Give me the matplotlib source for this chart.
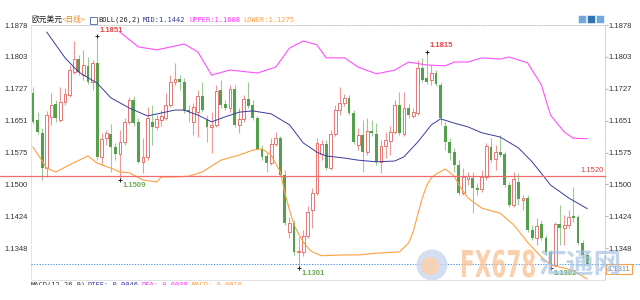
import matplotlib
matplotlib.use("Agg")
import matplotlib.pyplot as plt
from matplotlib.patches import Rectangle, Circle, PathPatch
from matplotlib.textpath import TextPath
from matplotlib.font_manager import FontProperties
from matplotlib.transforms import Affine2D, IdentityTransform
import numpy as np

plt.rcParams['font.family'] = ['Liberation Sans', 'Noto Sans CJK SC', 'DejaVu Sans']

# daily EUR/USD candles
opens = [1.1717,1.1652,1.1622,1.1538,1.1660,1.1690,1.1652,1.1695,1.1712,1.1766,
         1.1797,1.1759,1.1781,1.1743,1.1788,1.1565,1.1610,1.1619,1.1588,1.1572,
         1.1600,1.1648,1.1700,1.1648,1.1553,1.1565,1.1648,1.1636,1.1652,1.1657,
         1.1688,1.1743,1.1750,1.1743,1.1676,1.1648,1.1671,1.1709,1.1652,1.1636,
         1.1641,1.1724,1.1690,1.1681,1.1726,1.1641,1.1655,1.1702,1.1688,1.1657,
         1.1584,1.1567,1.1550,1.1595,1.1610,1.1522,1.1386,1.1408,1.1339,1.1339,
         1.1377,1.1439,1.1479,1.1572,1.1595,1.1538,1.1619,1.1676,1.1693,1.1705,
         1.1669,1.1593,1.1617,1.1576,1.1626,1.1619,1.1553,1.1591,1.1603,1.1624,
         1.1688,1.1619,1.1681,1.1662,1.1669,1.1776,1.1752,1.1747,1.1764,1.1736,
         1.1638,1.1600,1.1576,1.1546,1.1479,1.1512,1.1515,1.1491,1.1489,1.1517,
         1.1588,1.1560,1.1576,1.1572,1.1498,1.1451,1.1505,1.1462,1.1467,1.1391,
         1.1372,1.1405,1.1372,1.1339,1.1308,1.1405,1.1396,1.1403,1.1424,1.1422,
         1.1360,1.1332]
highs = [1.1731,1.1671,1.1633,1.1674,1.1717,1.1700,1.1731,1.1728,1.1783,1.1840,
         1.1807,1.1819,1.1802,1.1795,1.1851,1.1622,1.1629,1.1643,1.1598,1.1629,
         1.1657,1.1707,1.1709,1.1657,1.1610,1.1683,1.1688,1.1664,1.1676,1.1717,
         1.1759,1.1788,1.1759,1.1752,1.1688,1.1693,1.1724,1.1743,1.1664,1.1671,
         1.1736,1.1747,1.1700,1.1736,1.1736,1.1681,1.1712,1.1743,1.1700,1.1662,
         1.1593,1.1574,1.1610,1.1624,1.1614,1.1534,1.1422,1.1415,1.1375,1.1391,
         1.1448,1.1491,1.1610,1.1605,1.1605,1.1629,1.1688,1.1731,1.1714,1.1712,
         1.1676,1.1633,1.1652,1.1657,1.1652,1.1645,1.1605,1.1624,1.1638,1.1700,
         1.1719,1.1719,1.1690,1.1681,1.1795,1.1800,1.1815,1.1783,1.1771,1.1743,
         1.1648,1.1610,1.1586,1.1557,1.1538,1.1529,1.1529,1.1503,1.1534,1.1598,
         1.1610,1.1593,1.1617,1.1576,1.1505,1.1529,1.1527,1.1474,1.1474,1.1403,
         1.1420,1.1415,1.1379,1.1344,1.1410,1.1451,1.1427,1.1439,1.1493,1.1427,
         1.1367,1.1339]
lows = [1.1643,1.1619,1.1510,1.1517,1.1641,1.1648,1.1648,1.1688,1.1707,1.1762,
        1.1759,1.1747,1.1738,1.1724,1.1557,1.1546,1.1593,1.1529,1.1557,1.1509,
        1.1593,1.1643,1.1638,1.1550,1.1527,1.1557,1.1593,1.1629,1.1638,1.1652,
        1.1683,1.1736,1.1724,1.1669,1.1648,1.1617,1.1612,1.1671,1.1600,1.1574,
        1.1636,1.1681,1.1676,1.1671,1.1636,1.1622,1.1648,1.1681,1.1652,1.1581,
        1.1557,1.1529,1.1546,1.1591,1.1519,1.1403,1.1372,1.1332,1.1301,1.1329,
        1.1372,1.1396,1.1474,1.1557,1.1534,1.1534,1.1614,1.1664,1.1686,1.1664,
        1.1595,1.1581,1.1529,1.1569,1.1614,1.1546,1.1527,1.1562,1.1569,1.1619,
        1.1617,1.1614,1.1657,1.1657,1.1664,1.1743,1.1738,1.1736,1.1733,1.1641,
        1.1581,1.1557,1.1529,1.1474,1.1474,1.1498,1.1432,1.1474,1.1481,1.1510,
        1.1553,1.1534,1.1565,1.1493,1.1446,1.1446,1.1451,1.1439,1.1386,1.1367,
        1.1356,1.1367,1.1332,1.1302,1.1303,1.1356,1.1356,1.1396,1.1410,1.1356,
        1.1325,1.1308]
closes = [1.1648,1.1624,1.1538,1.1664,1.1688,1.1657,1.1695,1.1714,1.1771,1.1797,
          1.1766,1.1783,1.1743,1.1788,1.1565,1.1607,1.1622,1.1588,1.1572,1.1600,
          1.1648,1.1700,1.1645,1.1553,1.1565,1.1657,1.1636,1.1655,1.1662,1.1688,
          1.1743,1.1750,1.1743,1.1674,1.1671,1.1683,1.1709,1.1676,1.1636,1.1641,
          1.1721,1.1688,1.1681,1.1726,1.1641,1.1655,1.1702,1.1686,1.1657,1.1584,
          1.1565,1.1550,1.1595,1.1610,1.1522,1.1408,1.1408,1.1339,1.1341,1.1377,
          1.1434,1.1479,1.1598,1.1595,1.1538,1.1619,1.1676,1.1693,1.1705,1.1669,
          1.1600,1.1617,1.1576,1.1626,1.1622,1.1553,1.1591,1.1605,1.1624,1.1688,
          1.1622,1.1681,1.1664,1.1671,1.1776,1.1747,1.1743,1.1764,1.1738,1.1657,
          1.1600,1.1574,1.1546,1.1479,1.1517,1.1519,1.1491,1.1486,1.1517,1.1591,
          1.1557,1.1576,1.1569,1.1498,1.1451,1.1512,1.1465,1.1467,1.1391,1.1372,
          1.1401,1.1372,1.1339,1.1308,1.1405,1.1396,1.1403,1.1422,1.1420,1.1360,
          1.1332,1.1311]

# BOLL(26,2) lines, sampled at candle positions
mid_idx = [3,7,10,14,17,21,25,28,31,33,36,39,42,45,48,52,56,59,62,64,
           68,71,75,79,81,84,87,89,92,95,98,102,106,109,113,117,121]
mid_val = [1.1861,1.1800,1.1766,1.1740,1.1705,1.1681,1.1662,1.1669,1.1676,1.1676,
           1.1664,1.1648,1.1660,1.1671,1.1674,1.1667,1.1641,1.1598,1.1576,1.1567,
           1.1562,1.1557,1.1553,1.1555,1.1565,1.1600,1.1641,1.1655,1.1645,1.1636,
           1.1622,1.1612,1.1586,1.1553,1.1498,1.1467,1.1442]
upper_idx = [19,23,27,31,33,36,39,43,49,53,56,59,62,64,68,71,75,79,82,86,
             90,92,95,98,102,104,108,111,113,116,118,121]
upper_val = [1.1861,1.1826,1.1819,1.1828,1.1833,1.1814,1.1759,1.1771,1.1764,1.1778,
             1.1823,1.1840,1.1831,1.1800,1.1800,1.1778,1.1762,1.1771,1.1790,1.1783,
             1.1781,1.1790,1.1790,1.1800,1.1797,1.1802,1.1788,1.1736,1.1664,1.1624,
             1.1609,1.1608]
lower_idx = [0,2,3,5,8,12,14,17,19,21,24,27,28,31,34,37,41,45,48,50,
             52,54,55,56,57,58,59,60,61,63,68,71,75,80,82,83,84,85,86,87,
             88,90,92,93,95,98,102,105,108,111,113,116,118,121]
lower_val = [1.1588,1.1555,1.1538,1.1529,1.1546,1.1567,1.1550,1.1538,1.1529,1.1527,
             1.1510,1.1505,1.1517,1.1517,1.1519,1.1529,1.1557,1.1569,1.1581,1.1584,
             1.1569,1.1529,1.1479,1.1439,1.1403,1.1382,1.1363,1.1349,1.1339,1.1330,
             1.1332,1.1332,1.1336,1.1339,1.1360,1.1386,1.1427,1.1467,1.1498,1.1515,
             1.1524,1.1536,1.1519,1.1498,1.1467,1.1443,1.1431,1.1403,1.1362,1.1327,
             1.1308,1.1301,1.1294,1.1275]

yticks = [1.1878, 1.1803, 1.1727, 1.1651, 1.1575, 1.1500, 1.1424, 1.1348]
ytick_labels = ['1.1878', '1.1803', '1.1727', '1.1651', '1.1575', '1.1500', '1.1424', '1.1348']

level_line = 1.1520
last_price = 1.1311
# (candle index, price, label, is high)
extremes = [(14, 1.1851, '1.1851', True), (19, 1.1509, '1.1509', False),
            (58, 1.1301, '1.1301', False), (86, 1.1815, '1.1815', True),
            (113, 1.1302, '1.1302', False)]

W, H = 640, 300
fig = plt.figure(figsize=(6.4, 3.0), dpi=100)
ax = fig.add_axes([31 / W, 1 - 280 / H, 574 / W, 255 / H])

x = np.arange(len(opens))
o, h, l, c = map(np.array, (opens, highs, lows, closes))
up = c >= o
red, red_w = '#e5605d', '#ef9896'
green, green_w = '#55a04a', '#9ccb93'
ax.vlines(x[up], l[up], h[up], color=red_w, lw=0.8, zorder=2)
ax.vlines(x[~up], l[~up], h[~up], color=green_w, lw=0.8, zorder=2)
ax.bar(x[up], c[up] - o[up], bottom=o[up], width=0.62, facecolor='white',
       edgecolor=red, linewidth=0.6, zorder=3)
ax.bar(x[~up], o[~up] - c[~up], bottom=c[~up], width=0.62, color=green,
       linewidth=0, zorder=3)

ax.plot(mid_idx, mid_val, color='#3b3b9e', lw=0.7, zorder=4)
ax.plot(upper_idx, upper_val, color='#ff50ff', lw=0.8, zorder=4)
ax.plot(lower_idx, lower_val, color='#ffa040', lw=0.8, zorder=4)

ax.axhline(level_line, xmin=-31 / 574, xmax=1, color='#f26b6b', lw=0.9,
           clip_on=False, zorder=5)
ax.annotate(f'{level_line:.4f}', xy=(1, level_line),
            xycoords=('axes fraction', 'data'), xytext=(-1, 1),
            textcoords='offset points', ha='right', va='bottom',
            fontsize=5.5, color='#e03a3a')
ax.axhline(last_price, xmin=0, xmax=(640 - 31) / 574, color='#3d8ee0', lw=0.7,
           ls=(0, (1.2, 1.6)), clip_on=False, zorder=5)
ax.annotate(f'{last_price:.4f}', xy=(1, last_price),
            xycoords=('axes fraction', 'data'), xytext=(2, -1.5),
            textcoords='offset points', ha='left', va='top',
            fontsize=5.5, color='#7a8aa0', annotation_clip=False, zorder=7,
            bbox=dict(boxstyle='square,pad=0.2', fc='white', ec='#f5a040', lw=0.8))

for i, p, txt, is_high in extremes:
    ax.plot(i, p, marker='+', ms=3.5, mew=0.7, color='#222222', zorder=6)
    ax.annotate(txt, (i, p), xytext=(2, 1.5 if is_high else -1.5),
                textcoords='offset points', ha='left',
                va='bottom' if is_high else 'top', fontsize=5.5,
                fontweight='bold', color='#e0474c' if is_high else '#6aaa55')

ax.set_xlim(-0.44, 124.9)
ax.set_ylim(1.12724, 1.1878)
ax.set_xticks([])
ax.set_yticks(yticks)
ax.set_yticklabels(ytick_labels)
ax.tick_params(axis='y', left=False, right=True, labelleft=True, labelright=True,
               length=2, color='#bbbbbb', labelsize=5.5, labelcolor='#333333', pad=0.5)
ax.spines['left'].set_color('#dde4ee')
ax.spines['bottom'].set_color('#e2e2e2')
for s in ('top', 'right'):
    ax.spines[s].set_color('#c8c8c8')
    ax.spines[s].set_linestyle((0, (1, 1.5)))
for s in ax.spines.values():
    s.set_linewidth(0.7)


def fx(px):
    return px / W


def fy(py):
    return 1 - py / H


# header legend
cjk = ['Noto Sans CJK SC', 'DejaVu Sans']
mono = ['DejaVu Sans Mono', 'Noto Sans CJK SC']
fig.text(fx(31), fy(20), '欧元美元', fontsize=5.6, color='#222222', family=cjk, va='center')
fig.text(fx(62), fy(20), '<日线>', fontsize=5.6, color='#f08a24', family=cjk, va='center')
fig.patches.append(Rectangle((fx(90), fy(23.5)), 7 / W, 7 / H, transform=fig.transFigure,
                             fill=False, ec='#4466bb', lw=0.6))
fig.text(fx(98), fy(20), 'BOLL(26,2)', fontsize=5, color='#222222', family=mono, va='center')
fig.text(fx(143), fy(20), 'MID:1.1442', fontsize=5, color='#333399', family=mono, va='center')
fig.text(fx(189), fy(20), 'UPPER:1.1608', fontsize=5, color='#ff33ff', family=mono, va='center')
fig.text(fx(243), fy(20), 'LOWER:1.1275', fontsize=5, color='#ffa040', family=mono, va='center')

# toolbar buttons top right
for bx, col in ((578, '#6fa8dc'), (587, '#2f74b5'), (596, '#6fa8dc')):
    fig.patches.append(Rectangle((fx(bx), fy(23)), 8 / W, 8 / H, transform=fig.transFigure,
                                 fc=col, ec='white', lw=0.4))

# sub-chart legend row, mostly cut off
for px, txt, col in ((31, 'MACD(12,26,9)', '#333333'), (88, 'DIFF:-0.0046', '#3333aa'),
                     (142, 'DEA:-0.0038', '#ff33ff'), (192, 'MACD:-0.0016', '#ffa040')):
    fig.text(fx(px), fy(282), txt, fontsize=5, color=col, family=mono, va='top', zorder=1)
fig.patches.append(Rectangle((0, 0), 1, fy(285), transform=fig.transFigure,
                             fc='white', ec='none', zorder=2))

# watermark
fig.patches.append(Circle((4.32, 0.35), 0.155, transform=fig.dpi_scale_trans,
                          fc='#c9d8ee', ec='none', alpha=0.8, zorder=3))
fig.patches.append(Circle((4.30, 0.34), 0.09, transform=fig.dpi_scale_trans,
                          fc='#f8d2b0', ec='none', alpha=0.9, zorder=3))
wm = TextPath((0, 0), 'FX678', size=1, prop=FontProperties(family='DejaVu Sans', weight='bold'))
wm_w = wm.get_extents().width
wm_tf = Affine2D().scale(73 / wm_w, 37).translate(460, H - 277)
fig.patches.append(PathPatch(wm, transform=wm_tf + IdentityTransform(), fc='#f9bf8f',
                             ec='none', alpha=0.75, zorder=3))
fig.text(fx(538), fy(266), '汇通网', fontsize=20, fontweight='bold', color='#a9c3e3',
         alpha=0.7, family=cjk, va='center', zorder=3)

fig.savefig('out.png', dpi=100)
